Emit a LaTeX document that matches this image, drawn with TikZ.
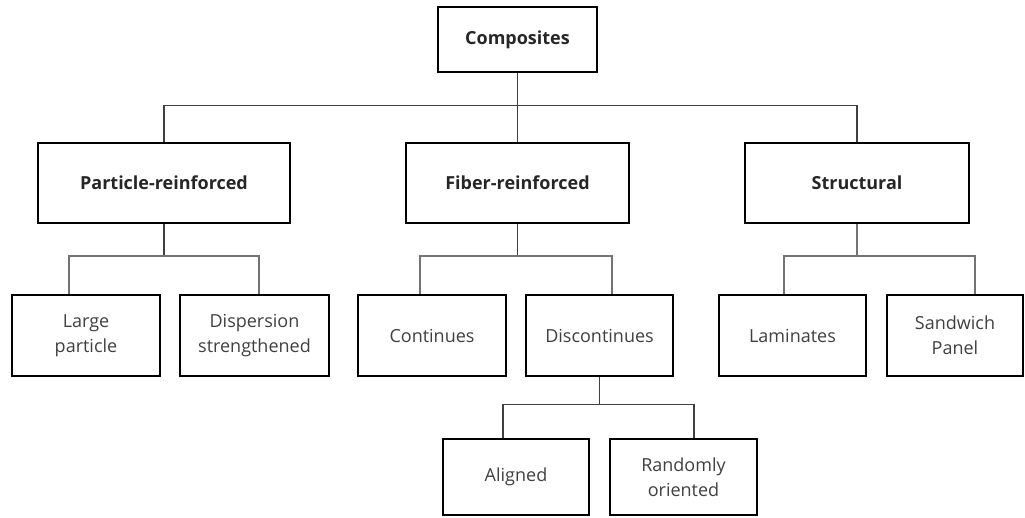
\documentclass[tikz,border=0pt]{standalone}
\usepackage{fontspec}
\setmainfont{Open Sans}
\usepackage{tikz}

\begin{document}
\begin{tikzpicture}[
x=1pt,y=-1pt,
catnode/.style={
  draw=black,
  line width=2.4pt,
  minimum height=80pt,
  font=\fontsize{18}{22}\selectfont\bfseries,
  text=black!85,
  inner sep=0pt
  },
leafnode/.style={
  draw=black,
  line width=2.4pt,
  minimum height=81pt,
  align=center,
  font=\fontsize{18}{25}\selectfont,
  text=black!75,
  inner sep=0pt
  },
link/.style={draw=black!75,line width=1.3pt},
sublink/.style={draw=black!55,line width=1.6pt}
]
\useasboundingbox (0,0) rectangle (1025,518);
% top level
\node[catnode,minimum width=159pt,minimum height=65pt] (comp) at (517.5,39.5) {Composites};
% second level
\node[catnode,minimum width=252pt] (part) at (164,183) {Particle-reinforced};
\node[catnode,minimum width=223pt] (fib) at (517.5,183) {Fiber-reinforced};
\node[catnode,minimum width=224pt] (str) at (857,183) {Structural};
% third level
\node[leafnode,minimum width=148pt] (large) at (86,335.5) {Large\\particle};
\node[leafnode,minimum width=149pt] (disp) at (254.5,335.5) {Dispersion\\strengthened};
\node[leafnode,minimum width=148pt] (cont) at (432,335.5) {Continues};
\node[leafnode,minimum width=147pt] (disc) at (599.5,335.5) {Discontinues};
\node[leafnode,minimum width=147pt] (lam) at (792.5,335.5) {Laminates};
\node[leafnode,minimum width=136pt] (sand) at (955,335.5) {Sandwich\\Panel};
% fourth level
\node[leafnode,minimum width=146pt,minimum height=76pt] (alig) at (516,477) {Aligned};
\node[leafnode,minimum width=147pt,minimum height=76pt] (rand) at (683.5,477) {Randomly\\oriented};

\draw[link] (comp.south) -- ++(0,32) coordinate (cj);
\draw[link] (part.north) |- (cj) -| (str.north);
\draw[link] (cj) -- (fib.north);

\draw[link] (part.south) -- ++(0,32) coordinate (pj);
\draw[sublink] ([xshift=-17pt]large.north) |- (pj) -| ([xshift=4.5pt]disp.north);
\draw[link] (fib.south) -- ++(0,32) coordinate (fj);
\draw[sublink] ([xshift=-12pt]cont.north) |- (fj) -| ([xshift=12.5pt]disc.north);
\draw[sublink] (str.south) -- ++(0,32) coordinate (sj);
\draw[sublink] ([xshift=-8.5pt]lam.north) |- (sj) -| ([xshift=20pt]sand.north);

\draw[link] (disc.south) -- ++(0,27) coordinate (dj);
\draw[link] ([xshift=-13pt]alig.north) |- (dj) -| ([xshift=10.5pt]rand.north);
\end{tikzpicture}
\end{document}
